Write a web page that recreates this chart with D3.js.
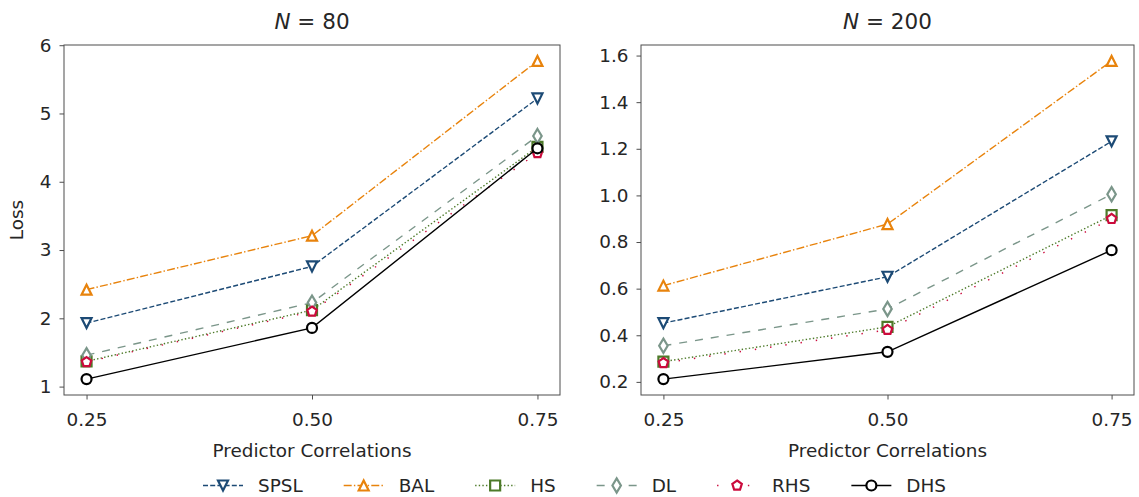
<!DOCTYPE html>
<html>
<head>
<meta charset="utf-8">
<script src="https://cdn.jsdelivr.net/npm/d3@7"></script>
<style>
  html, body { margin: 0; padding: 0; background: #ffffff; }
  svg { display: block; font-family: "DejaVu Sans", sans-serif; }
</style>
</head>
<body>
<svg id="chart" width="1139" height="497"></svg>
<script>
// Predictor correlation levels on the x axis
const correlations = [0.25, 0.50, 0.75];
const xTickLabels = ["0.25", "0.50", "0.75"];

// Method names (legend order = drawing order)
const methods = ["SPSL", "BAL", "HS", "DL", "RHS", "DHS"];

// Loss values, N = 80
const lossN80_SPSL = [1.93, 2.76, 5.22];
const lossN80_BAL  = [2.42, 3.21, 5.77];
const lossN80_HS   = [1.37, 2.12, 4.51];
const lossN80_DL   = [1.46, 2.23, 4.67];
const lossN80_RHS  = [1.36, 2.10, 4.42];
const lossN80_DHS  = [1.11, 1.86, 4.49];

// Loss values, N = 200
const lossN200_SPSL = [0.452, 0.651, 1.232];
const lossN200_BAL  = [0.613, 0.877, 1.577];
const lossN200_HS   = [0.287, 0.436, 0.915];
const lossN200_DL   = [0.355, 0.513, 1.005];
const lossN200_RHS  = [0.281, 0.423, 0.899];
const lossN200_DHS  = [0.212, 0.329, 0.765];

// Y tick labels per panel
const yTicksN80  = [1, 2, 3, 4, 5, 6];
const yTicksN200 = [0.2, 0.4, 0.6, 0.8, 1.0, 1.2, 1.4, 1.6];

const panels = [
  { n: "80",  ticks: yTicksN80,  fmt: d3.format("d"),
    values: [lossN80_SPSL, lossN80_BAL, lossN80_HS, lossN80_DL, lossN80_RHS, lossN80_DHS],
    box: { x0: 64, x1: 560, y0: 45, y1: 395 }, ylabel: "Loss" },
  { n: "200", ticks: yTicksN200, fmt: d3.format(".1f"),
    values: [lossN200_SPSL, lossN200_BAL, lossN200_HS, lossN200_DL, lossN200_RHS, lossN200_DHS],
    box: { x0: 641, x1: 1134, y0: 45, y1: 395 }, ylabel: null }
];

// Per-method styling
const styles = {
  SPSL: { color: "#1c4a75", dash: "5,2.2",          marker: "tri_down" },
  BAL:  { color: "#e8830c", dash: "8,2.2,1.4,2.2",  marker: "tri_up" },
  HS:   { color: "#4d7a29", dash: "1.4,2.2",        marker: "square" },
  DL:   { color: "#7b968a", dash: "8,8",            marker: "thin_diamond" },
  RHS:  { color: "#cb0b3c", dash: "1.4,14",         marker: "pentagon" },
  DHS:  { color: "#000000", dash: null,             marker: "circle" }
};

const textColor = "#262626";
const fontSize = 18.4;
const markerSize = 10;
const lineWidth = 1.4;
const markerStroke = 2.2;

// Marker path generator centred on (0,0)
function markerPath(kind, s) {
  const h = s / 2;
  switch (kind) {
    case "tri_up":   return `M0,${-h}L${h},${h}L${-h},${h}Z`;
    case "tri_down": return `M0,${h}L${-h},${-h}L${h},${-h}Z`;
    case "square":   return `M${-h},${-h}H${h}V${h}H${-h}Z`;
    case "thin_diamond": {
      const dy = s * Math.SQRT2 / 2, dx = dy * 0.6;
      return `M0,${-dy}L${dx},0L0,${dy}L${-dx},0Z`;
    }
    case "pentagon": {
      const pts = d3.range(5).map(i => {
        const a = -Math.PI / 2 + i * 2 * Math.PI / 5;
        return [h * Math.cos(a), h * Math.sin(a)];
      });
      return "M" + pts.map(p => p.join(",")).join("L") + "Z";
    }
    case "circle":
      return `M${h},0A${h},${h} 0 1,1 ${-h},0A${h},${h} 0 1,1 ${h},0Z`;
  }
}

const svg = d3.select("#chart");

panels.forEach(p => {
  const b = p.box;
  const all = p.values.flat();
  const lo = d3.min(all), hi = d3.max(all), pad = (hi - lo) * 0.05;
  const xPad = (d3.max(correlations) - d3.min(correlations)) * 0.05;

  const x = d3.scaleLinear()
    .domain([d3.min(correlations) - xPad, d3.max(correlations) + xPad])
    .range([b.x0, b.x1]);
  const y = d3.scaleLinear().domain([lo - pad, hi + pad]).range([b.y1, b.y0]);

  const g = svg.append("g");

  // Plot frame
  g.append("rect")
    .attr("x", b.x0).attr("y", b.y0)
    .attr("width", b.x1 - b.x0).attr("height", b.y1 - b.y0)
    .attr("fill", "none").attr("stroke", "#4d4d4d").attr("stroke-width", 1);

  // Axes
  const xAxis = d3.axisBottom(x).tickValues(correlations)
    .tickFormat((d, i) => xTickLabels[i]).tickSize(4.5).tickPadding(0);
  const yAxis = d3.axisLeft(y).tickValues(p.ticks)
    .tickFormat(p.fmt).tickSize(4.5).tickPadding(8);

  const gx = g.append("g").attr("transform", `translate(0,${b.y1})`).call(xAxis);
  const gy = g.append("g").attr("transform", `translate(${b.x0},0)`).call(yAxis);
  [gx, gy].forEach(a => {
    a.select(".domain").remove();
    a.selectAll(".tick line").attr("stroke", "#4d4d4d").attr("stroke-width", 1);
    a.selectAll(".tick text")
      .attr("fill", textColor)
      .style("font-size", fontSize + "px")
      .style("font-family", "DejaVu Sans");
  });
  // baseline of x tick labels ~31px below the frame
  gx.selectAll(".tick text").attr("y", 31).attr("dy", null);

  // Title with italic N
  const title = g.append("text")
    .attr("x", (b.x0 + b.x1) / 2).attr("y", 28.5)
    .attr("text-anchor", "middle")
    .attr("fill", textColor)
    .style("font-size", "21.5px");
  title.append("tspan").style("font-style", "italic").text("N");
  title.append("tspan").text(" = " + p.n);

  // Axis labels
  g.append("text")
    .attr("x", (b.x0 + b.x1) / 2).attr("y", 456.5)
    .attr("text-anchor", "middle").attr("fill", textColor)
    .style("font-size", fontSize + "px")
    .text("Predictor Correlations");

  if (p.ylabel) {
    g.append("text")
      .attr("transform", `translate(23,${(b.y0 + b.y1) / 2}) rotate(-90)`)
      .attr("text-anchor", "middle").attr("fill", textColor)
      .style("font-size", fontSize + "px")
      .text(p.ylabel);
  }

  // Series lines and markers
  const line = d3.line().x((d, i) => x(correlations[i])).y(d => y(d));
  methods.forEach((m, k) => {
    const st = styles[m];
    const sg = g.append("g");
    sg.append("path")
      .datum(p.values[k])
      .attr("d", line)
      .attr("fill", "none")
      .attr("stroke", st.color)
      .attr("stroke-width", lineWidth)
      .attr("stroke-dasharray", st.dash);
    sg.selectAll("path.mk")
      .data(p.values[k])
      .join("path")
      .attr("class", "mk")
      .attr("transform", (d, i) => `translate(${x(correlations[i])},${y(d)})`)
      .attr("d", markerPath(st.marker, markerSize))
      .attr("fill", "#ffffff")
      .attr("stroke", st.color)
      .attr("stroke-width", markerStroke);
  });
});

// Legend along the bottom
const legend = svg.append("g");
let lx = 203;
const ly = 485.5;
methods.forEach(m => {
  const st = styles[m];
  const item = legend.append("g");
  item.append("line")
    .attr("x1", lx).attr("x2", lx + 40).attr("y1", ly).attr("y2", ly)
    .attr("stroke", st.color).attr("stroke-width", lineWidth)
    .attr("stroke-dasharray", st.dash);
  item.append("path")
    .attr("transform", `translate(${lx + 20},${ly})`)
    .attr("d", markerPath(st.marker, markerSize))
    .attr("fill", "#ffffff").attr("stroke", st.color).attr("stroke-width", markerStroke);
  const t = item.append("text")
    .attr("x", lx + 55).attr("y", 492)
    .attr("fill", textColor)
    .style("font-size", fontSize + "px")
    .text(m);
  lx = lx + 55 + t.node().getComputedTextLength() + 41;
});
</script>
</body>
</html>
